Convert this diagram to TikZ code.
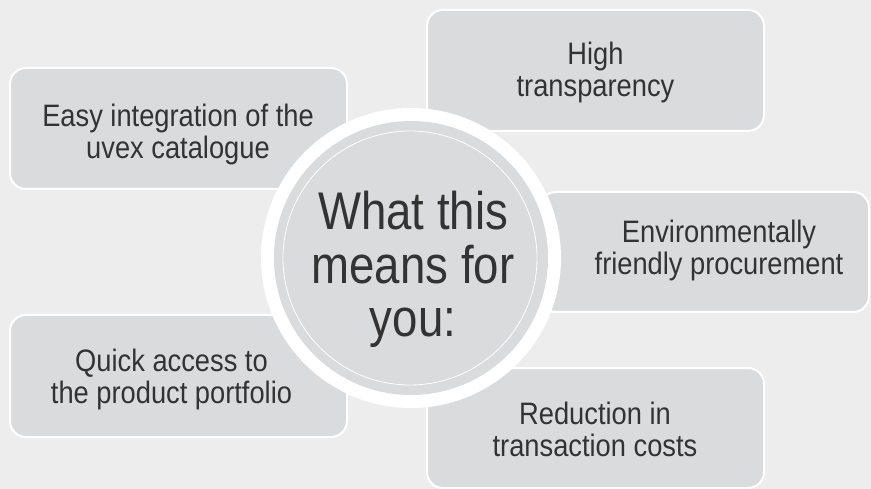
\documentclass[tikz,border=0pt]{standalone}
\usepackage{fontspec}
\usepackage{graphicx}
\setmainfont{Liberation Sans}
\definecolor{bgc}{HTML}{ECEDEC}
\definecolor{boxc}{HTML}{DADBDC}
\definecolor{txtc}{HTML}{333333}
\newcommand{\sxb}[1]{\scalebox{0.88}[1]{#1}}
\newcommand{\sxc}[1]{\scalebox{0.86}[1]{#1}}
\begin{document}
\begin{tikzpicture}[x=1pt,y=-1pt,
  infobox/.style={rectangle, draw=white, line width=2pt, fill=boxc, rounded corners=16pt, inner sep=0pt},
  btext/.style={text=txtc, font=\fontsize{31}{31.5}\selectfont, align=center, inner sep=0pt},
  ctext/.style={text=txtc, font=\fontsize{53}{53.5}\selectfont, align=center, inner sep=0pt}]
\fill[bgc] (0,0) rectangle (871,489);
\useasboundingbox (0,0) rectangle (871,489);
% boxes
\node[infobox, minimum width=337pt, minimum height=121pt] (b1) at (178.5,128.5) {};
\node[infobox, minimum width=337pt, minimum height=121pt] (b2) at (595.5,70.5) {};
\node[infobox, minimum width=329pt, minimum height=120pt] (b3) at (704.5,252) {};
\node[infobox, minimum width=337pt, minimum height=122pt] (b4) at (178.5,376) {};
\node[infobox, minimum width=337pt, minimum height=120pt] (b5) at (595.5,428) {};
% texts
\node[btext] (t1) at (178,134.7) {\sxb{Easy integration of the}\\\sxb{uvex catalogue}};
\node[btext] (t2) at (595.5,72.7) {\sxb{High}\\\sxb{transparency}};
\node[btext] (t3) at (719,250.7) {\sxb{Environmentally}\\\sxb{friendly procurement}};
\node[btext] (t4) at (171.5,379.7) {\sxb{Quick access to}\\\sxb{the product portfolio}};
\node[btext] (t5) at (595,429.5) {\sxb{Reduction in}\\\sxb{transaction costs}};
% centre circle
\node[circle, fill=white, minimum size=300pt, inner sep=0pt] (ring) at (411,258) {};
\node[circle, fill=boxc, minimum size=274pt, inner sep=0pt] (disc) at (411,258) {};
\node[circle, draw=white, line width=0.8pt, minimum size=254pt, inner sep=0pt] (rim) at (410,258) {};
\node[ctext] (ctr) at (413,269.6) {\sxc{What this}\\\sxc{means for}\\\sxc{you:}};
\end{tikzpicture}
\end{document}
